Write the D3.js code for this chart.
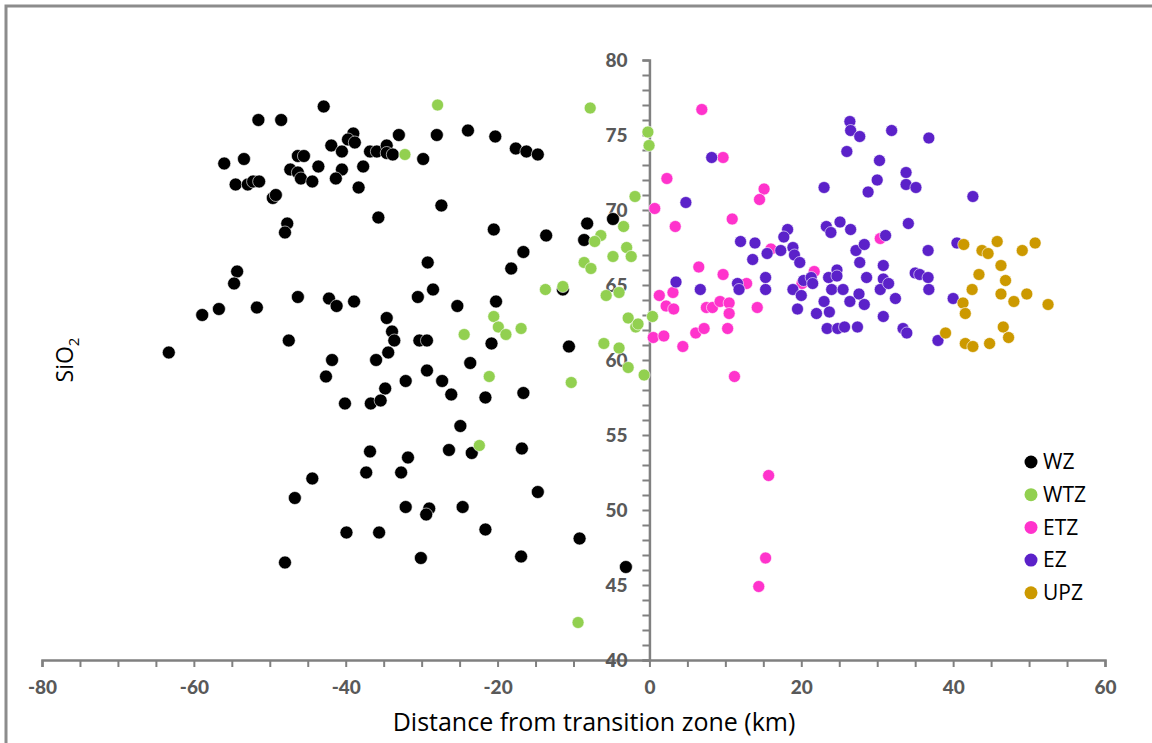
<!DOCTYPE html>
<html>
<head>
<meta charset="utf-8">
<script src="https://cdn.jsdelivr.net/npm/d3@7"></script>
<style>
  body { margin:0; background:#fff; }
  svg { display:block; }
</style>
</head>
<body>
<div class="chart"></div>
<script>
var width=1152
var height=743
var axisgray='#808080'
var labelgray='#595959'

// WZ
var wz=[[-42.9,76.9],[-51.5,76.0],[-48.5,76.0],[-39.0,75.1],[-39.7,74.7],[-38.8,74.5],
[-33.0,75.0],[-28.0,75.0],[-23.9,75.3],[-20.3,74.9],[-41.9,74.3],[-40.5,73.9],
[-36.8,73.9],[-35.9,73.9],[-34.6,74.3],[-34.6,73.8],[-33.8,73.7],[-29.8,73.4],
[-17.6,74.1],[-16.2,73.9],[-14.7,73.7],[-56.0,73.1],[-53.4,73.4],[-46.3,73.6],[-45.5,73.6],
[-47.3,72.7],[-46.3,72.5],[-45.9,72.1],[-44.4,71.9],[-43.6,72.9],[-40.5,72.7],[-41.3,72.1],
[-37.7,72.9],[-38.3,71.5],[-54.5,71.7],[-52.9,71.7],[-52.2,71.9],[-51.4,71.9],
[-49.6,70.8],[-49.2,71.0],[-35.7,69.5],[-27.4,70.3],[-20.5,68.7],[-47.7,69.1],[-48.0,68.5],
[-13.6,68.3],[-8.2,69.1],[-4.8,69.4],[-8.6,68.0],[-16.6,67.2],[-18.2,66.1],[-29.2,66.5],
[-54.3,65.9],[-54.7,65.1],[-28.5,64.7],[-30.5,64.2],[-25.3,63.6],[-20.2,63.9],[-11.4,64.7],
[-46.3,64.2],[-42.2,64.1],[-41.2,63.6],[-38.9,63.9],[-51.7,63.5],[-56.7,63.4],[-58.9,63.0],
[-34.6,62.8],[-63.3,60.5],[-47.5,61.3],[-33.9,61.9],[-33.6,61.3],[-30.3,61.3],[-29.3,61.3],
[-34.4,60.5],[-36.0,60.0],[-41.8,60.0],[-42.6,58.9],[-20.8,61.1],[-23.6,59.8],[-29.3,59.3],
[-32.1,58.6],[-27.3,58.6],[-34.8,58.1],[-26.1,57.7],[-21.6,57.5],[-40.1,57.1],[-36.7,57.1],
[-35.4,57.3],[-24.9,55.6],[-36.8,53.9],[-31.8,53.5],[-26.4,54.0],[-23.4,53.8],[-44.4,52.1],
[-37.3,52.5],[-32.7,52.5],[-46.7,50.8],[-32.1,50.2],[-29.0,50.1],[-29.4,49.7],[-24.6,50.2],
[-21.6,48.7],[-39.9,48.5],[-35.6,48.5],[-30.1,46.8],[-48.0,46.5],[-10.6,60.9],[-16.6,57.8],
[-16.8,54.1],[-14.7,51.2],[-9.2,48.1],[-3.1,46.2],[-16.9,46.9]]

// WTZ
var wtz=[[-32.2,73.7],[-27.9,77.0],[-7.8,76.8],[-0.2,75.2],[-0.05,74.3],[-1.9,70.9],[-3.4,68.9],
[-6.4,68.3],[-7.2,67.9],[-3.0,67.5],[-2.4,66.9],[-4.8,66.9],[-8.6,66.5],[-7.7,66.1],[-13.7,64.7],
[-11.4,64.9],[-5.7,64.3],[-4.0,64.5],[-20.5,62.9],[-2.8,62.8],[-1.8,62.2],[-1.5,62.4],[0.4,62.9],
[-24.4,61.7],[-19.9,62.2],[-18.9,61.7],[-16.9,62.1],[-21.1,58.9],[-22.4,54.3],[-6.0,61.1],
[-4.0,60.8],[-2.8,59.5],[-0.7,59.0],[-10.3,58.5],[-9.4,42.5]]

// ETZ
var etz=[[6.9,76.7],[9.7,73.5],[2.3,72.1],[15.1,71.4],[14.5,70.7],[0.7,70.1],[3.4,68.9],[10.9,69.4],
[16.0,67.4],[30.4,68.1],[6.5,66.2],[9.7,65.7],[21.7,65.9],[12.8,65.1],[20.1,65.1],[1.3,64.3],
[2.2,63.6],[3.1,64.5],[3.2,63.4],[7.5,63.5],[8.3,63.5],[9.3,63.9],[10.5,63.8],[10.5,63.1],
[14.2,63.5],[6.1,61.8],[7.2,62.1],[10.3,62.1],[0.5,61.5],[1.9,61.6],[4.4,60.9],[11.2,58.9],
[15.7,52.3],[15.3,46.8],[14.4,44.9]]

// EZ
var ez=[[8.2,73.5],[4.8,70.5],[12.0,67.9],[13.9,67.8],[13.6,66.7],[15.5,67.1],[17.3,67.3],[18.2,68.7],
[17.7,68.2],[18.9,67.5],[19.1,67.0],[19.8,66.5],[23.0,71.5],[26.4,75.9],[26.5,75.3],[27.7,74.9],
[26.0,73.9],[30.3,73.3],[30.0,72.0],[28.8,71.2],[31.9,75.3],[23.3,68.9],[23.9,68.5],[25.1,69.2],
[26.5,68.7],[31.1,68.3],[27.2,67.3],[28.3,67.7],[27.7,66.5],[30.8,66.3],[3.5,65.2],[6.7,64.7],
[11.6,65.1],[11.8,64.7],[15.3,65.5],[15.3,64.7],[20.3,65.3],[21.3,65.5],[21.5,65.1],[18.9,64.7],
[20.0,64.3],[23.6,65.5],[24.7,66.0],[24.7,65.6],[24.0,64.7],[25.5,64.7],[28.6,65.5],[27.6,64.4],
[28.3,63.7],[26.4,63.9],[30.8,65.4],[30.4,64.7],[31.5,65.1],[32.4,64.1],[19.5,63.4],[22.0,63.1],
[23.0,63.9],[23.7,63.2],[23.4,62.1],[24.8,62.1],[25.7,62.2],[27.4,62.2],[30.8,62.9],[36.8,74.8],
[33.8,72.5],[33.8,71.7],[35.1,71.5],[42.6,70.9],[34.1,69.1],[36.7,67.3],[40.5,67.8],[35.0,65.8],
[35.6,65.7],[36.7,65.5],[36.8,64.7],[40.0,64.1],[33.4,62.1],[33.9,61.8],[38.0,61.3]]

// UPZ
var upz=[[41.4,67.7],[43.8,67.3],[44.6,67.1],[45.8,67.9],[49.1,67.3],[50.8,67.8],[46.3,66.3],
[43.4,65.7],[46.9,65.3],[42.5,64.7],[46.3,64.4],[49.7,64.4],[48.0,63.9],[41.3,63.8],[52.5,63.7],
[41.6,63.1],[46.6,62.2],[39.0,61.8],[47.3,61.5],[41.6,61.1],[42.6,60.9],[44.8,61.1]]

var zones=['WZ','WTZ','ETZ','EZ','UPZ']
var zonecolors=['#000000','#92d050','#ff33cc','#5b21c9','#cc9900']
var zonedata=[wz,wtz,etz,ez,upz]

var xticks=[-80,-60,-40,-20,0,20,40,60]
var yticks=[40,45,50,55,60,65,70,75,80]

var svg=d3.select('.chart').append('svg').attr('width',width).attr('height',height)

// outer frame
svg.append('path')
   .attr('d','M6,'+height+'V6H'+width)
   .attr('fill','none')
   .attr('stroke','#8c8c8c')
   .attr('stroke-width',3)

var xscale=d3.scaleLinear().domain([-80,60]).range([42,1105])
var yscale=d3.scaleLinear().domain([40,80]).range([660,60])

// x axis, minor ticks every 5
var xaxis=svg.append('g')
   .attr('transform','translate(0,'+yscale(40)+')')
   .call(d3.axisBottom(xscale)
        .tickValues(d3.range(-80,61,5))
        .tickFormat(function(d){return xticks.indexOf(d)>=0 ? d : ''})
        .tickSize(7).tickPadding(14))
xaxis.select('.domain').attr('stroke',axisgray).attr('stroke-width',2.5)
xaxis.selectAll('line').attr('stroke',axisgray).attr('stroke-width',2)
xaxis.selectAll('text')
   .attr('fill',labelgray)
   .style('font-family','Lato, sans-serif')
   .style('font-weight','900')
   .style('font-size','19px')

// y axis at x=0, minor ticks every 1
var yaxis=svg.append('g')
   .attr('transform','translate('+xscale(0)+',0)')
   .call(d3.axisLeft(yscale)
        .tickValues(d3.range(40,81,1))
        .tickFormat(function(d){return yticks.indexOf(d)>=0 ? d : ''})
        .tickSize(7).tickPadding(15))
yaxis.select('.domain').attr('stroke',axisgray).attr('stroke-width',2.5)
yaxis.selectAll('line').attr('stroke',axisgray).attr('stroke-width',2)
yaxis.selectAll('text')
   .attr('fill',labelgray)
   .style('font-family','Lato, sans-serif')
   .style('font-weight','900')
   .style('font-size','19px')

// points
zonedata.forEach(function(pts,i){
  svg.append('g')
     .attr('class','zone'+zones[i])
     .selectAll('circle')
     .data(pts).enter()
     .append('circle')
     .attr('cx',function(d){return xscale(d[0])})
     .attr('cy',function(d){return yscale(d[1])})
     .attr('r',i==0 ? 6.5 : 6)
     .attr('fill',zonecolors[i])
     .attr('stroke','#fff')
     .attr('stroke-width',0.6)
})

// legend
var legend=svg.append('g').attr('transform','translate(1031,462)')
zones.forEach(function(z,i){
  legend.append('circle')
        .attr('cx',0).attr('cy',i*32.7)
        .attr('r',6.5)
        .attr('fill',zonecolors[i])
  legend.append('text')
        .attr('x',12).attr('y',i*32.7)
        .attr('dy','0.35em')
        .text(z)
        .attr('fill','#000')
        .style('font-family','Open Sans, sans-serif')
        .style('font-size','21px')
})

// axis titles
svg.append('text')
   .attr('x',594).attr('y',731)
   .attr('text-anchor','middle')
   .text('Distance from transition zone (km)')
   .style('font-family','Open Sans, sans-serif')
   .style('font-size','25px')

var ytitle=svg.append('text')
   .attr('transform','translate(73,360) rotate(-90)')
   .attr('text-anchor','middle')
   .style('font-family','Open Sans, sans-serif')
   .style('font-size','23px')
ytitle.append('tspan').text('SiO')
ytitle.append('tspan').text('2').attr('dy',6).style('font-size','15px')
</script>
</body>
</html>
